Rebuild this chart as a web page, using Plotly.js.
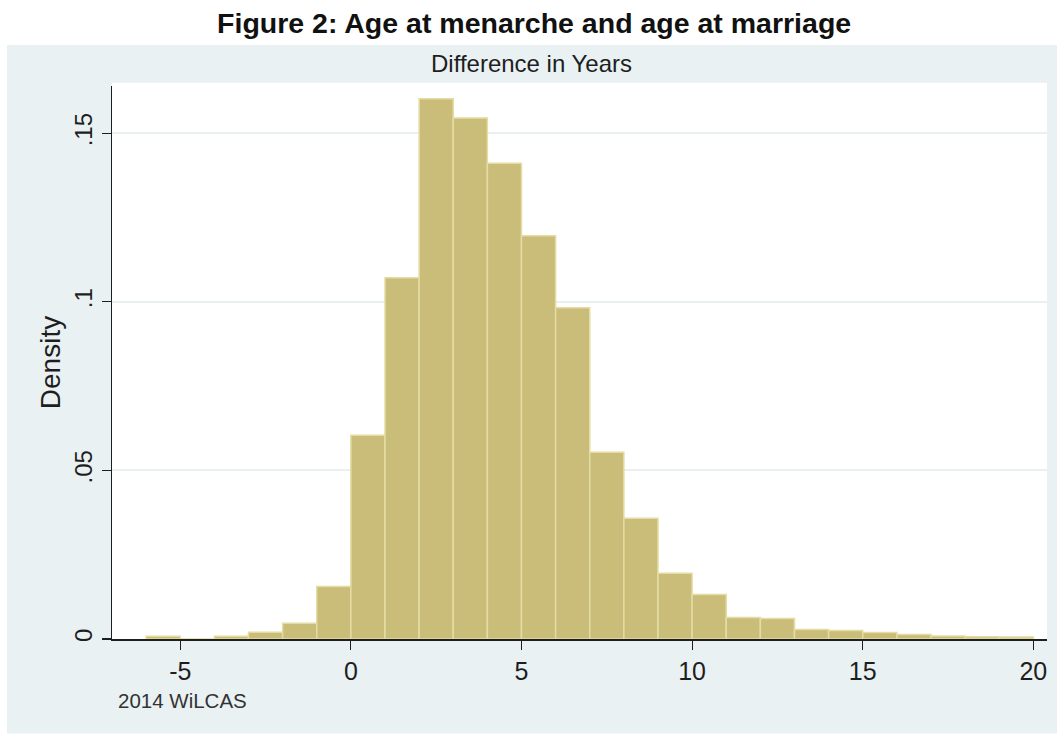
<!DOCTYPE html>
<html>
<head>
<meta charset="utf-8">
<script src="https://cdn.plot.ly/plotly-3.0.1.min.js"></script>
<style>html,body{margin:0;padding:0;background:#fff;}#chart{width:1064px;height:735px;}</style>
</head>
<body>
<div id="chart"></div>
<script>
// Histogram bins (left edges, width 1 year) and densities
var binLeft = [-6,-5,-4,-3,-2,-1,0,1,2,3,4,5,6,7,8,9,10,11,12,13,14,15,16,17,18,19];
var density = [0.0008,0,0.0008,0.002,0.0047,0.0156,0.0604,0.1071,0.1602,0.1545,0.1411,0.1196,0.0982,0.0554,0.0358,0.0195,0.0132,0.0064,0.0061,0.0028,0.0025,0.0019,0.0013,0.0009,0.0007,0.0006];
var yTickVals = [0,0.05,0.1,0.15];
var yTickText = ['0','.05','.1','.15'];
var xTickVals = [-5,0,5,10,15,20];
var xTickText = ['-5','0','5','10','15','20'];

var textCol = '#1e1e1e';
var fam = 'Liberation Sans, Arial, sans-serif';
var trace = {
  type: 'bar',
  x: binLeft,
  y: density,
  width: 1,
  offset: 0,
  marker: {color: '#c9bd79', line: {color: '#e4dca2', width: 1.5}},
  hoverinfo: 'x+y'
};

var layout = {
  width: 1064, height: 735,
  margin: {l: 112, r: 17, t: 86, b: 96},
  paper_bgcolor: '#ffffff',
  plot_bgcolor: '#ffffff',
  showlegend: false,
  bargap: 0,
  title: {
    text: '<b>Figure 2: Age at menarche and age at marriage</b>',
    font: {family: fam, size: 28.5, color: '#111'},
    x: 0.502, xanchor: 'center', xref: 'container',
    y: 0.969, yanchor: 'middle', yref: 'container'
  },
  xaxis: {
    range: [-7.0, 20.4],
    tickvals: xTickVals, ticktext: xTickText,
    ticks: 'outside', ticklen: 9, tickwidth: 1.2, tickcolor: textCol,
    showline: true, linecolor: textCol, linewidth: 1.5,
    showgrid: false, zeroline: false,
    tickfont: {family: fam, size: 25, color: textCol}
  },
  yaxis: {
    range: [0, 0.164],
    tickvals: yTickVals, ticktext: yTickText,
    tickangle: -90,
    ticks: 'outside', ticklen: 9, tickwidth: 1.2, tickcolor: textCol,
    showline: true, linecolor: textCol, linewidth: 1.5,
    showgrid: true, gridcolor: '#e9f0f2', gridwidth: 2,
    zeroline: false,
    tickfont: {family: fam, size: 24, color: textCol},
    title: {text: 'Density', standoff: 1, font: {family: fam, size: 28, color: textCol}}
  },
  shapes: [
    {type: 'rect', xref: 'paper', yref: 'paper', x0: -0.1123, x1: 1.0107, y0: -0.171, y1: 1.0742,
     fillcolor: '#e9f1f3', line: {width: 0}, layer: 'below'},
    {type: 'rect', xref: 'paper', yref: 'paper', x0: 0, x1: 1, y0: 0, y1: 1.006,
     fillcolor: '#ffffff', line: {width: 0}, layer: 'below'}
  ],
  annotations: [
    {text: 'Difference in Years', xref: 'paper', yref: 'paper', x: 0.449, y: 1.04,
     xanchor: 'center', yanchor: 'middle', showarrow: false,
     font: {family: fam, size: 24, color: textCol}},
    {text: '2014 WiLCAS', xref: 'paper', yref: 'paper', x: 0.004, y: -0.111,
     xanchor: 'left', yanchor: 'middle', showarrow: false,
     font: {family: fam, size: 20.5, color: '#333'}}
  ]
};

Plotly.newPlot('chart', [trace], layout, {displayModeBar: false, staticPlot: true});
</script>
</body>
</html>
